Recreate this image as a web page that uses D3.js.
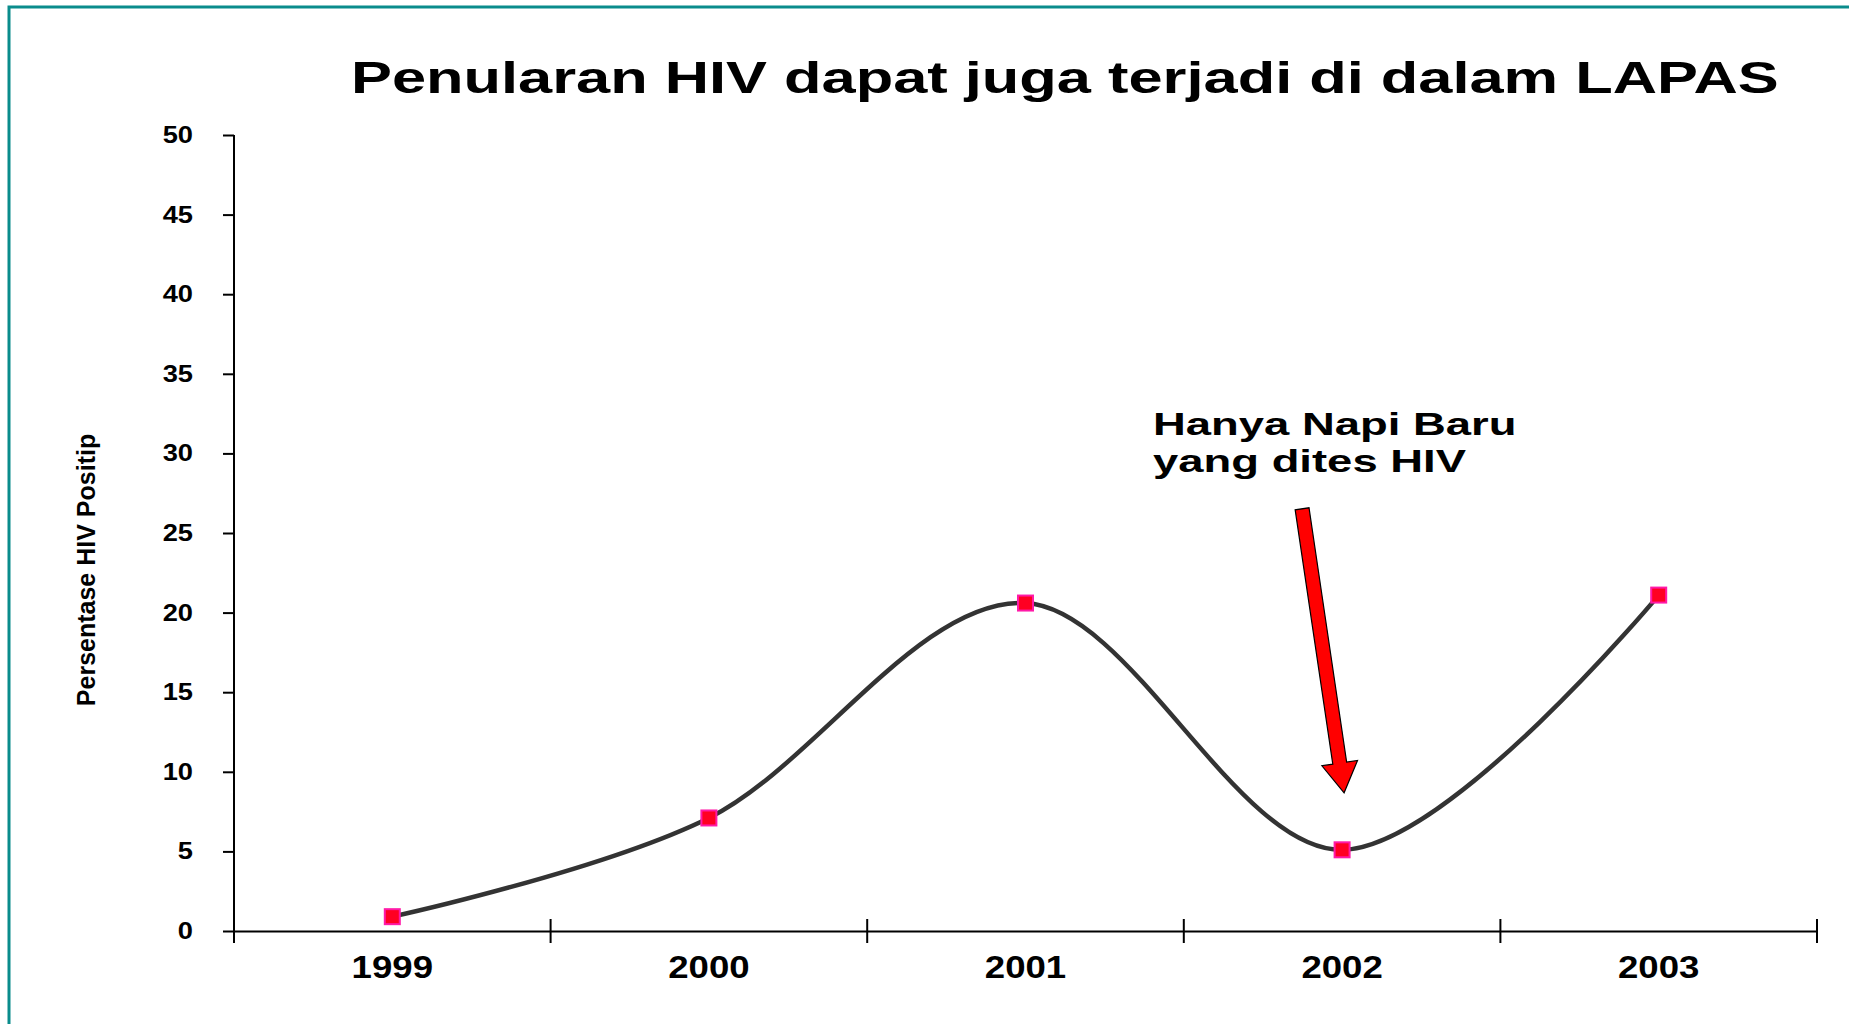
<!DOCTYPE html>
<html>
<head>
<meta charset="utf-8">
<script src="https://cdn.jsdelivr.net/npm/d3@7"></script>
<style>
  body { margin: 0; background: #fff; }
  text { font-family: "Liberation Sans", Arial, sans-serif; font-weight: bold; fill: #000; }
</style>
</head>
<body>
<svg id="chart" width="1849" height="1024"></svg>
<script>
// data
const years = ["1999", "2000", "2001", "2002", "2003"];
const hivPositive = [0.9, 7.1, 20.6, 5.1, 21.1];
const yTickValues = [0, 5, 10, 15, 20, 25, 30, 35, 40, 45, 50];
const titleText = "Penularan HIV dapat juga terjadi di dalam LAPAS";
const yTitleText = "Persentase HIV Positip";
const noteLines = ["Hanya Napi Baru", "yang dites HIV"];

const svg = d3.select("#chart");
const W = +svg.attr("width");

// slide frame (teal, only top/left visible)
svg.append("rect")
    .attr("x", 9).attr("y", 7)
    .attr("width", W + 20).attr("height", 1100)
    .attr("fill", "none")
    .attr("stroke", "#0a8c8c")
    .attr("stroke-width", 3);

const x = d3.scaleBand().domain(years).range([234, 1817]).padding(0);
const y = d3.scaleLinear().domain([0, 50]).range([931, 135]);

// the slide is stretched sideways, so widen the glyphs the same way
function widen(sel, k) {
    sel.each(function () {
        const t = d3.select(this);
        const x0 = +t.attr("x") || 0;
        t.attr("x", x0 / k).attr("transform", `scale(${k},1)`);
    });
}

// y axis
const yAxis = svg.append("g")
    .attr("transform", `translate(${x.range()[0]},0)`)
    .call(d3.axisLeft(y).tickValues(yTickValues).tickSize(11).tickSizeOuter(0).tickPadding(30));
yAxis.select(".domain").attr("stroke", "#000").attr("stroke-width", 2)
    .attr("d", `M0,${y(50)}V${y(0) + 12}`);
yAxis.selectAll(".tick line").attr("stroke", "#000").attr("stroke-width", 2);
yAxis.selectAll(".tick text")
    .attr("font-size", 23.5)
    .attr("font-family", "Liberation Sans, Arial, sans-serif")
    .attr("font-weight", "bold")
    .call(widen, 1.16);

// x axis: labels centred in bands, ticks on band edges
const xAxis = svg.append("g")
    .attr("transform", `translate(0,${y(0)})`)
    .call(d3.axisBottom(x).tickSize(0).tickPadding(25));
xAxis.select(".domain").attr("stroke", "#000").attr("stroke-width", 2);
xAxis.selectAll(".tick text")
    .attr("font-size", 30.5)
    .attr("font-family", "Liberation Sans, Arial, sans-serif")
    .attr("font-weight", "bold")
    .call(widen, 1.2);

const edges = years.map(d => x(d)).concat([x.range()[1]]);
xAxis.selectAll("line.edge")
    .data(edges.slice(1))
    .enter().append("line")
    .attr("class", "edge")
    .attr("x1", d => d).attr("x2", d => d)
    .attr("y1", -12).attr("y2", 12)
    .attr("stroke", "#000")
    .attr("stroke-width", 2);

// smoothed line
const pts = years.map((d, i) => [x(d) + x.bandwidth() / 2, y(hivPositive[i])]);
svg.append("path")
    .attr("d", d3.line().curve(d3.curveCardinal.tension(0))(pts))
    .attr("fill", "none")
    .attr("stroke", "#333")
    .attr("stroke-width", 4.5);

// square markers
svg.selectAll("rect.marker")
    .data(pts)
    .enter().append("rect")
    .attr("class", "marker")
    .attr("x", d => d[0] - 7.5)
    .attr("y", d => d[1] - 7.5)
    .attr("width", 15).attr("height", 15)
    .attr("fill", "#ff0022")
    .attr("stroke", "#ff1aa8")
    .attr("stroke-width", 2);

// title
svg.append("text")
    .attr("x", 351).attr("y", 93)
    .attr("font-size", 44)
    .text(titleText)
    .call(widen, 1.395);

// y axis title
svg.append("text")
    .attr("transform", `translate(95,${(y(0) + y(50)) / 2 + 37}) rotate(-90)`)
    .attr("text-anchor", "middle")
    .attr("font-size", 25)
    .text(yTitleText);

// annotation
noteLines.forEach((line, i) => {
    svg.append("text")
        .attr("x", 1153).attr("y", 435 + i * 37)
        .attr("font-size", 32)
        .text(line)
        .call(widen, 1.42);
});

// red arrow pointing at 2002
const tip = [x("2002") + x.bandwidth() / 2 + 2, y(hivPositive[3]) - 57];
const tail = [tip[0] - 42, tip[1] - 284];
function arrowPath(a, b, shaftHalf, headHalf, headLen) {
    const dx = b[0] - a[0], dy = b[1] - a[1];
    const L = Math.hypot(dx, dy);
    const ux = dx / L, uy = dy / L;
    const nx = -uy, ny = ux;
    const bx = b[0] - ux * headLen, by = b[1] - uy * headLen;
    const p = [
        [a[0] + nx * shaftHalf, a[1] + ny * shaftHalf],
        [bx + nx * shaftHalf, by + ny * shaftHalf],
        [bx + nx * headHalf, by + ny * headHalf],
        b,
        [bx - nx * headHalf, by - ny * headHalf],
        [bx - nx * shaftHalf, by - ny * shaftHalf],
        [a[0] - nx * shaftHalf, a[1] - ny * shaftHalf]
    ];
    return "M" + p.map(q => q.join(",")).join("L") + "Z";
}
svg.append("path")
    .attr("d", arrowPath(tail, tip, 7, 18, 30))
    .attr("fill", "#ff0000")
    .attr("stroke", "#000")
    .attr("stroke-width", 1.2);
</script>
</body>
</html>
